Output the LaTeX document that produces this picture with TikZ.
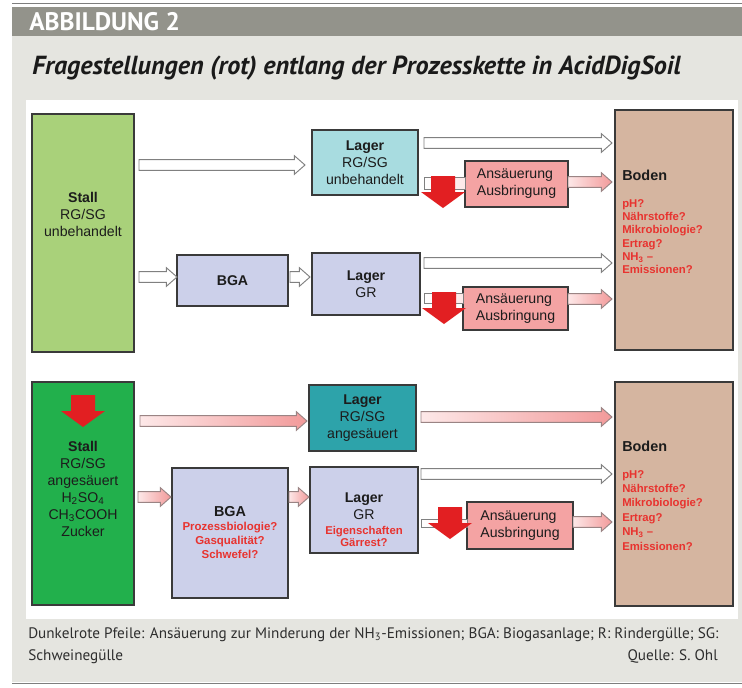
\documentclass[tikz,border=0pt]{standalone}
\usepackage{fontspec}
\setmainfont{Liberation Sans}
\newfontfamily\hdrfont{PT Sans}
\usetikzlibrary{calc}
\definecolor{bggray}{HTML}{E5E5E0}
\definecolor{hdrgray}{HTML}{93938B}
\definecolor{linegray}{HTML}{7E7E7E}
\definecolor{boxline}{HTML}{3A3A3A}
\definecolor{txtc}{HTML}{1C1C1C}
\definecolor{stallA}{HTML}{A9D17A}
\definecolor{stallB}{HTML}{22B04C}
\definecolor{lagerA}{HTML}{A8DCE0}
\definecolor{lav}{HTML}{CCD0EA}
\definecolor{tealbox}{HTML}{2DA3AA}
\definecolor{salmon}{HTML}{F4A3A3}
\definecolor{bodenc}{HTML}{D5B5A0}
\definecolor{redarr}{HTML}{E21F22}
\definecolor{redq}{HTML}{E8332F}
\definecolor{pinkL}{HTML}{FDE8E8}
\definecolor{pinkR}{HTML}{F29A9A}
\definecolor{pinkline}{HTML}{9A8484}
\definecolor{arrgray}{HTML}{808080}
\definecolor{titlec}{HTML}{1A1A1A}
\definecolor{capc}{HTML}{2E2E2E}
\def\bsw{4pt}\def\bhw{7pt}\def\bhl{8pt}
\tikzset{
  blk/.style={to path={let \p1=(\tikztostart), \p2=(\tikztotarget) in
     (\x1,\y1+\bsw) -- (\x2-\bhl,\y1+\bsw) -- (\x2-\bhl,\y1+\bhw) -- (\x2,\y1)
     -- (\x2-\bhl,\y1-\bhw) -- (\x2-\bhl,\y1-\bsw) -- (\x1,\y1-\bsw) -- cycle}},
  hollow/.style={blk, fill=white, draw=arrgray, line width=0.7pt},
  pinkarr/.style={blk, left color=pinkL, right color=pinkR, draw=pinkline, line width=0.7pt},
  stubbar/.style={left color=white, right color=pinkL, draw=arrgray, line width=0.7pt},
  box/.style={draw=boxline, line width=0.8pt, inner sep=0pt, outer sep=0pt},
  sz/.style 2 args={minimum width=#1*0.75pt, minimum height=#2*0.75pt},
  txt/.style={inner sep=0pt, text=txtc, font=\fontsize{10.6}{12.75}\selectfont, align=center},
  boldtxt/.style={inner sep=0pt, text=txtc, font=\fontsize{10.8}{13}\selectfont\bfseries},
  redtxt/.style={inner sep=0pt, text=redq, font=\fontsize{8.5}{10}\selectfont\bfseries, align=center},
  captxt/.style={inner sep=0pt, text=capc, font=\hdrfont\fontsize{11.4}{13}\selectfont},
  reddown/.pic={\fill[redarr] (-12,0) -- (12,0) -- (12,16) -- (22,16) -- (0,32) -- (-22,16) -- (-12,16) -- cycle;},
}
\begin{document}
\begin{tikzpicture}[x=0.75pt,y=-0.75pt]
\useasboundingbox (0,0) rectangle (742,687);
% frame
\fill[white] (0,0) rectangle (742,687);
\draw[linegray, line width=1.2pt] (12,3.3) -- (742,3.3);
\fill[hdrgray] (12,6.7) rectangle (742,36);
\fill[bggray] (12,36) rectangle (742,682);
\draw[linegray, line width=1.2pt] (12,683.5) -- (742,683.5);
\fill[white] (26,100) rectangle (738,619);
\node[anchor=base west, inner sep=0pt, text=white, font=\hdrfont\fontsize{19}{22}\selectfont\bfseries] (hdr) at (29,30) {ABBILDUNG 2};
\node[anchor=base west, inner sep=0pt, text=titlec, font=\hdrfont\fontsize{19.6}{23}\selectfont\bfseries\itshape] (title) at (32,74) {Fragestellungen (rot) entlang der Prozesskette in AcidDigSoil};
\node[captxt, anchor=base west] (cap1) at (28,638) {Dunkelrote Pfeile: Ansäuerung zur Minderung der NH\textsubscript{3}-Emissionen; BGA: Biogasanlage; R: Rindergülle; SG:};
\node[captxt, anchor=base west] (cap2) at (28,660) {Schweinegülle};
\node[captxt, anchor=base east] (cap3) at (718,660) {Quelle: S. Ohl};

% upper chain
\node[box, sz={102}{238}, fill=stallA] (stall1) at (83,233) {};
\node[txt] (stall1t) at (83,214) {\textbf{Stall}\\RG/SG\\unbehandelt};
\node[box, sz={106}{65}, fill=lagerA, txt] (lager1) at (365,162.5) {\textbf{Lager}\\RG/SG\\unbehandelt};
\node[box, sz={111}{51}, fill=lav, txt] (bga1) at (232.5,280.5) {\textbf{BGA}};
\node[box, sz={108}{62}, fill=lav, txt] (lagergr1) at (366,284) {\textbf{Lager}\\GR};
\node[box, sz={103}{46}, fill=salmon, txt, align=left] (ans1) at (516.5,184) {Ansäuerung\\Ausbringung};
\node[box, sz={105}{43}, fill=salmon, txt, align=left] (ans2) at (515.5,308.5) {Ansäuerung\\Ausbringung};
\node[box, sz={118}{240}, fill=bodenc] (boden1) at (674,230) {};
\node[boldtxt, anchor=west] (boden1t) at (622,175) {Boden};
\node[redtxt, align=left, anchor=north west] (boden1q) at (622,199) {pH?\\Nährstoffe?\\Mikrobiologie?\\Ertrag?\\NH\textsubscript{3} –\\Emissionen?};

% lower chain
\node[box, sz={102}{223}, fill=stallB] (stall2) at (83,493.5) {};
\node[txt] (stall2t) at (83,489) {\textbf{Stall}\\RG/SG\\angesäuert\\H\textsubscript{2}SO\textsubscript{4}\\CH\textsubscript{3}COOH\\Zucker};
\node[box, sz={107}{66}, fill=tealbox, txt] (lager3) at (362.5,418) {\textbf{Lager}\\RG/SG\\angesäuert};
\node[box, sz={116}{130}, fill=lav] (bga2) at (230,533) {};
\node[boldtxt] (bga2t) at (230,512) {BGA};
\node[redtxt, font=\fontsize{8.6}{10.5}\selectfont\bfseries] (bga2q) at (230,540) {Prozessbiologie?\\Gasqualität?\\Schwefel?};
\node[box, sz={108}{86}, fill=lav] (lagergr2) at (364,510) {};
\node[txt] (lagergr2t) at (364,506) {\textbf{Lager}\\GR};
\node[redtxt, font=\fontsize{8.5}{8.5}\selectfont\bfseries] (lagergr2q) at (364,536.5) {Eigenschaften\\Gärrest?};
\node[box, sz={106}{47}, fill=salmon, txt, align=left] (ans3) at (520,525.5) {Ansäuerung\\Ausbringung};
\node[box, sz={118}{224}, fill=bodenc] (boden2) at (674,494) {};
\node[boldtxt, anchor=west] (boden2t) at (622,446) {Boden};
\node[redtxt, align=left, anchor=north west, font=\fontsize{8.5}{10.8}\selectfont\bfseries] (boden2q) at (622,470) {pH?\\Nährstoffe?\\Mikrobiologie?\\Ertrag?\\NH\textsubscript{3} –\\Emissionen?};

% connectors upper
\draw[hollow] ($(stall1.east|-lager1.west)+(5,2.5)$) to ($(lager1.west)+(-7,0)$);
\draw[hollow] ($(stall1.east|-bga1.west)+(5,-3.5)$) to (bga1.west);
\draw[hollow] ($(bga1.east)+(2,-3.5)$) to ($(lagergr1.west)+(-2,0)$);
\draw[hollow] ($(lager1.north east)+(6,13)$) to ($(boden1.west)+(-3,0)$);
\draw[stubbar] ($(lager1.south east)+(6,-18)$) rectangle ($(ans1.west|-lager1.south east)+(0,-6)$);
\draw[pinkarr] ($(ans1.east)+(0,-2)$) to ($(boden1.west)+(-3,0)$);
\draw[hollow] ($(lagergr1.north east)+(4,10)$) to ($(boden1.west)+(-3,0)$);
\draw[stubbar] ($(lagergr1.north east)+(4,40)$) rectangle ($(ans2.west|-lagergr1.north east)+(0,50)$);
\draw[pinkarr] ($(ans2.east)+(0,-9.5)$) to ($(boden1.west)+(-3,0)$);

% connectors lower
\draw[pinkarr] ($(stall2.east|-lager3.west)+(6,3)$) to ($(lager3.west)+(-2,0)$);
\draw[pinkarr] ($(stall2.east|-bga2.west)+(4,-36)$) to ($(bga2.west)+(-1,0)$);
\draw[pinkarr] ($(bga2.east)+(1,-36)$) to ($(lagergr2.west)+(-1,0)$);
\draw[pinkarr] ($(lager3.east)+(5,-1)$) to ($(boden2.west)+(-3,0)$);
\draw[hollow] ($(lagergr2.north east)+(3,7)$) to ($(boden2.west)+(-3,0)$);
\draw[stubbar] ($(lagergr2.north east)+(3,52)$) rectangle ($(ans3.west|-lagergr2.north east)+(0,60)$);
\draw[pinkarr] ($(ans3.east)+(0,-3.5)$) to ($(boden2.west)+(-3,0)$);

% dark red acidification arrows
\pic (ra1) at (443,176) {reddown};
\pic (ra2) at (444,292) {reddown};
\pic (ra3) at (450,507) {reddown};
\pic (ra4) at (83,395) {reddown};
\end{tikzpicture}
\end{document}
